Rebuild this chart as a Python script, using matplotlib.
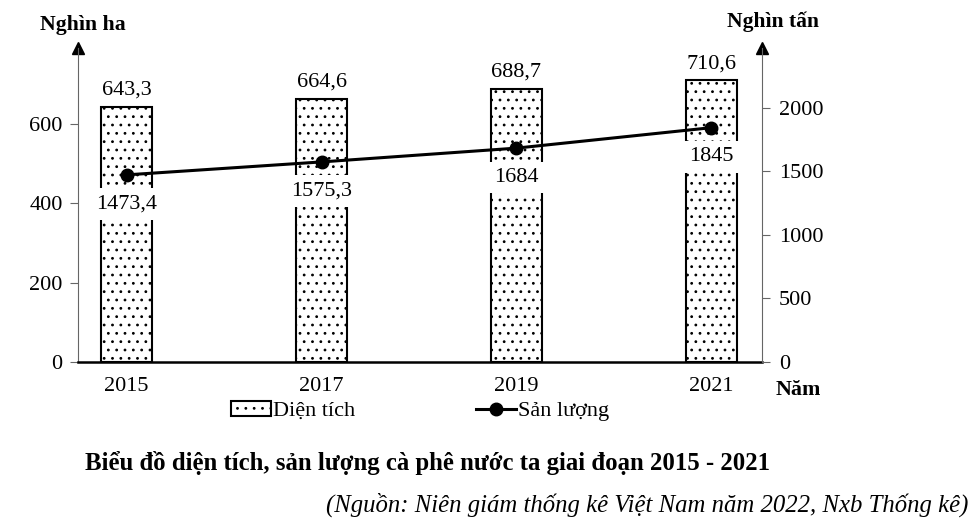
import numpy as np
import matplotlib
matplotlib.use('Agg')
import matplotlib.pyplot as plt

plt.rcParams['font.family'] = ['Liberation Serif', 'DejaVu Serif']
plt.rcParams['hatch.linewidth'] = 0.8
plt.rcParams['hatch.color'] = '#555555'

years = ['2015', '2017', '2019', '2021']
dien_tich = [643.3, 664.6, 688.7, 710.6]
san_luong = [1473.4, 1575.3, 1684, 1845]
dien_tich_labels = ['643,3', '664,6', '688,7', '710,6']
san_luong_labels = ['1473,4', '1575,3', '1684', '1845']

fig = plt.figure(figsize=(9.8, 5.22), dpi=100)
ax = fig.add_axes([0.0796, 0.3065, 0.698, 0.6015])
ax2 = ax.twinx()

x = np.arange(len(years))
bars = ax.bar(x, dien_tich, width=0.26, color='white', edgecolor='black',
              linewidth=1.5, hatch='..', label='Diện tích', zorder=2)
for xi, v, lab in zip(x, dien_tich, dien_tich_labels):
    ax.annotate(lab, (xi, v), xytext=(0, 5), textcoords='offset points',
                ha='center', va='bottom', fontsize=16)

line, = ax2.plot(x, san_luong, color='black', lw=2.2, marker='o', ms=9,
                 label='Sản lượng', zorder=5)
for xi, v, lab in zip(x, san_luong, san_luong_labels):
    ax2.annotate(lab, (xi, v), xytext=(0, -21), textcoords='offset points',
                 ha='center', va='center', fontsize=16,
                 bbox=dict(boxstyle='square,pad=0.28', fc='white', ec='none'))

ax.set_xlim(-0.25, 3.26)
ax.set_ylim(0, 792)
ax2.set_ylim(0, 2472)
ax.set_yticks([0, 200, 400, 600])
ax2.set_yticks([0, 500, 1000, 1500, 2000])
ax.set_xticks(x)
ax.set_xticklabels(years)

for a in (ax, ax2):
    a.spines['top'].set_visible(False)
ax.set_zorder(1)
ax2.set_zorder(2)
ax2.patch.set_visible(False)
ax.spines['right'].set_visible(False)
ax2.spines['left'].set_visible(False)
ax2.spines['bottom'].set_visible(False)
ax.spines['left'].set_color('#666666')
ax2.spines['right'].set_color('#666666')
ax.spines['bottom'].set_linewidth(1.8)
ax.tick_params(axis='y', labelsize=16, length=6, color='#666666', pad=5)
ax2.tick_params(axis='y', labelsize=16, length=6, color='#666666', pad=6)
ax.tick_params(axis='x', labelsize=16, length=0, pad=11)

# arrows at the top of both vertical axes
ax.plot(0, 1, '^k', ms=9, transform=ax.transAxes, clip_on=False)
ax.plot(1, 1, '^k', ms=9, transform=ax.transAxes, clip_on=False)

fig.text(0.041, 0.952, 'Nghìn ha', fontsize=15.7, fontweight='bold', ha='left', va='center')
fig.text(0.789, 0.958, 'Nghìn tấn', fontsize=15.5, fontweight='bold', ha='center', va='center')
fig.text(0.791, 0.253, 'Năm', fontsize=15.8, fontweight='bold', ha='left', va='center')

fig.legend([bars, line], ['Diện tích', 'Sản lượng'], loc='center',
           bbox_to_anchor=(0.4286, 0.2126), ncol=2, frameon=False, fontsize=16,
           columnspacing=5.4, handlelength=1.8, handletextpad=0.1)

fig.text(0.436, 0.113, 'Biểu đồ diện tích, sản lượng cà phê nước ta giai đoạn 2015 - 2021',
         fontsize=17.8, fontweight='bold', ha='center', va='center')
fig.text(0.988, 0.033, '(Nguồn: Niên giám thống kê Việt Nam năm 2022, Nxb Thống kê)',
         fontsize=17.8, style='italic', ha='right', va='center')

fig.savefig('out.png', dpi=100)
